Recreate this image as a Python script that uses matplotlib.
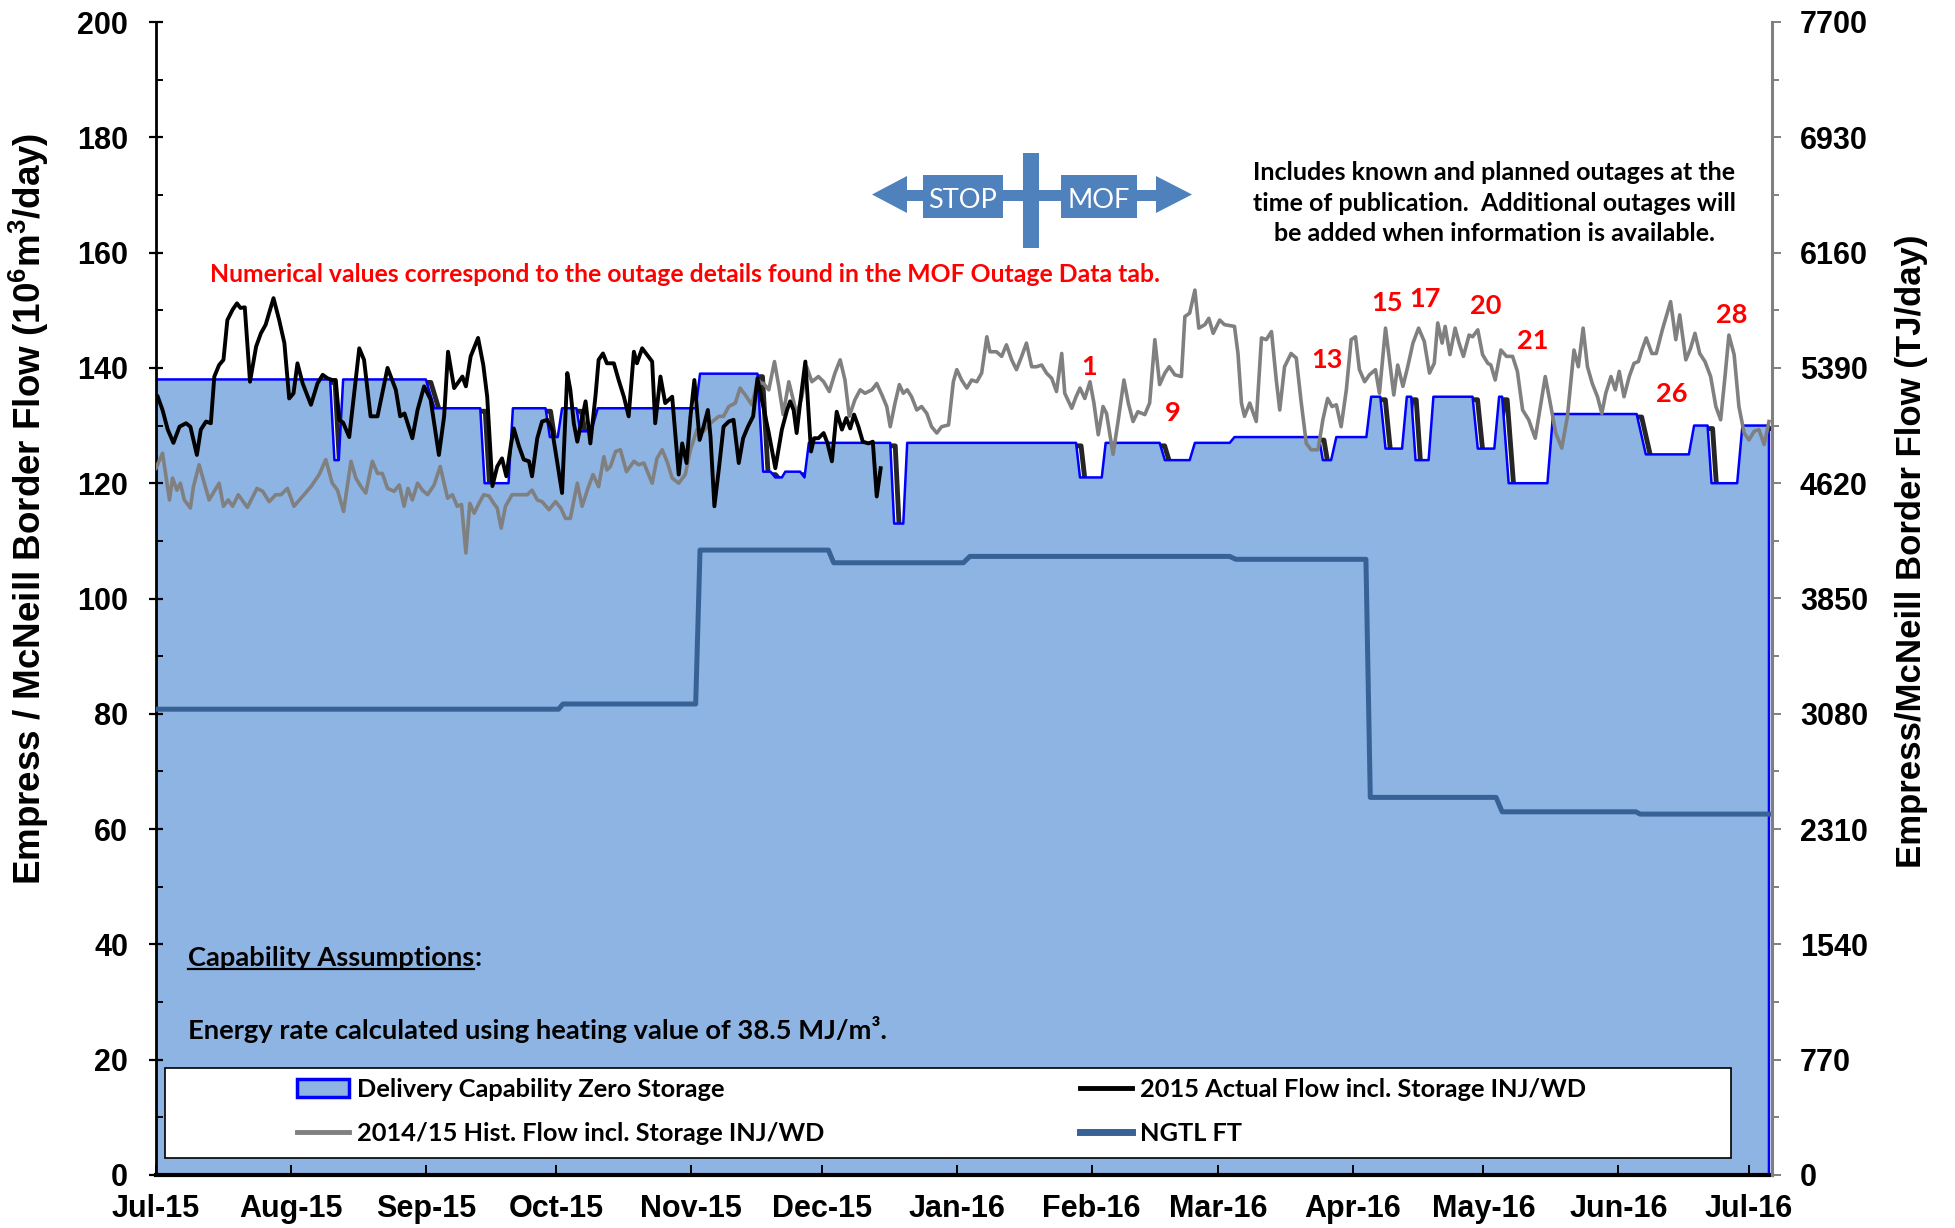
import numpy as np
import matplotlib
matplotlib.use('Agg')
import matplotlib.pyplot as plt
import matplotlib.dates as mdates
import matplotlib.transforms as mtransforms
from matplotlib.patches import Polygon, Rectangle, Patch
from matplotlib.lines import Line2D
from matplotlib.ticker import MultipleLocator

# ---------------- data (day offsets from 2015-07-01) ----------------
cap_days = [0, 40, 41, 42, 43, 62, 64, 74.5, 75.5, 81, 82, 89.5, 90.5, 92.3, 93.3, 96.6, 97.5,
            100, 101.5, 124, 125, 138.2, 139.5, 141.2, 142.3, 143.8, 144.6, 148, 149, 150,
            168.7, 169.6, 171.7, 172.6, 211.4, 212.3, 217.3, 218.2, 230.6, 231.8, 237.5, 238.7,
            246.7, 247.8, 267.2, 268.1, 270, 271.2, 278.1, 279.2, 281.3, 282.5, 286.3, 287.4,
            288.4, 289.4, 292.4, 293.5, 302.5, 303.7, 307.5, 308.6, 309.3, 310.8, 319.7, 321,
            340.2, 342.3, 352.2, 353.4, 356.5, 357.4, 363.3, 364.5, 370.6, 370.6]
cap_vals = [138, 138, 124, 124, 138, 138, 133, 133, 120, 120, 133, 133, 128, 128, 133, 133, 129,
            129, 133, 133, 139, 139, 122, 122, 121, 121, 122, 122, 121, 127,
            127, 113, 113, 127, 127, 121, 121, 127, 127, 124, 124, 127,
            127, 128, 128, 124, 124, 128, 128, 135, 135, 126, 126, 135,
            135, 124, 124, 135, 135, 126, 126, 135, 135, 120, 120, 132,
            132, 125, 125, 130, 130, 120, 120, 130, 130, 0]

ngtl_days = [0, 92.5, 93.5, 124, 125, 154.5, 155.7, 185.5, 187, 246.7, 248.1, 278, 279,
             307.9, 309.3, 340, 341, 370.6]
ngtl_vals = [80.8, 80.8, 81.7, 81.7, 108.4, 108.4, 106.2, 106.2, 107.3, 107.3, 106.8, 106.8,
             65.5, 65.5, 63.0, 63.0, 62.6, 62.6]

actual_days = [0.4, 1.5, 2.7, 4.0, 5.4, 6.9, 7.9, 9.4, 10.3, 11.5, 12.6, 13.4, 14.5, 15.5, 16.4,
               17.6, 18.6, 19.4, 20.4, 21.6, 23.0, 24.1, 25.2, 27.0, 28.3, 29.5, 30.6, 31.6,
               32.5, 33.7, 35.6, 37.1, 38.3, 39.4, 40.5, 41.3, 42.1, 43.0, 44.4, 46.7, 47.8,
               49.3, 50.9, 53.2, 55.1, 56.1, 57.1, 58.9, 60.1, 61.6, 63.1, 65.0, 66.2, 67.1,
               68.5, 70.4, 71.2, 72.3, 74.0, 75.2, 76.1, 76.8, 77.3, 78.4, 79.5, 80.5, 81.5,
               82.2, 83.4, 84.5, 85.7, 86.4, 87.6, 88.7, 89.9, 91.0, 92.2, 93.3, 94.5, 95.2,
               96.0, 96.8, 97.5, 98.7, 99.8, 101.0, 101.7, 102.7, 103.6, 105.2, 106.3, 107.5,
               108.6, 109.8, 110.5, 111.7, 112.8, 114.0, 114.7, 115.9, 117.0, 118.6, 120.1,
               120.9, 121.9, 122.8, 123.7, 124.9, 125.8, 126.8, 127.4, 128.3, 129.3, 130.4,
               131.6, 132.7, 133.9, 134.9, 136.0, 137.2, 138.2, 139.2, 140.8, 142.3, 143.8,
               145.0, 145.7, 146.5, 147.2, 148.0, 149.2, 149.9, 150.5, 151.2, 152.2, 153.4,
               154.3, 155.3, 156.4, 157.6, 158.6, 159.5, 160.4, 161.4, 162.4, 163.7, 164.7,
               165.6, 166.5]
actual_vals = [135.0, 132.7, 129.3, 127.0, 129.8, 130.4, 129.8, 124.9, 129.3, 130.7, 130.4, 138.5,
               140.5, 141.4, 148.3, 150.1, 151.2, 150.4, 150.5, 137.6, 143.7, 146.0, 147.5, 152.1,
               148.3, 144.3, 134.7, 135.6, 140.8, 137.3, 133.6, 137.3, 138.8, 138.2, 137.9, 137.9,
               131.0, 130.5, 128.0, 143.4, 141.4, 131.6, 131.6, 140.0, 136.2, 131.6, 132.1, 127.8,
               132.7, 136.8, 134.5, 124.9, 131.6, 142.8, 136.5, 138.5, 136.8, 142.0, 145.2, 140.5,
               135.0, 126.0, 119.5, 122.9, 124.3, 121.2, 126.4, 129.5, 126.4, 124.1, 123.8, 121.2,
               127.8, 130.7, 131.0, 129.3, 123.5, 118.3, 139.1, 136.2, 130.4, 127.2, 129.8, 134.2,
               126.9, 135.3, 141.4, 142.5, 140.8, 140.8, 137.9, 135.0, 131.6, 142.8, 140.8, 143.4,
               142.3, 141.1, 130.4, 138.5, 133.9, 135.0, 121.5, 126.9, 123.5, 131.6, 137.9, 127.5,
               129.8, 132.7, 128.1, 116.0, 122.3, 129.8, 130.7, 131.0, 123.5, 127.8, 129.8, 131.6,
               138.2, 134.5, 128.7, 122.6, 129.3, 132.7, 134.2, 132.7, 128.7, 133.9, 141.1, 132.7,
               125.5, 127.8, 127.8, 128.7, 126.9, 123.8, 132.4, 129.3, 131.3, 129.5, 131.9, 129.8,
               127.2, 126.9, 127.2, 117.7, 122.6]

hist_days = [0, 1.5, 3.1, 3.8, 4.8, 5.6, 6.5, 7.9, 8.6, 9.9, 11.1, 12.2, 13.8, 14.5, 15.5, 16.6,
             17.6, 18.9, 21.0, 23.2, 24.5, 26.0, 27.5, 28.7, 30.2, 31.7, 33.3, 35.6, 37.5, 39.0,
             40.5, 41.7, 43.1, 44.8, 45.9, 47.1, 48.2, 49.7, 50.9, 52.0, 53.2, 54.7, 55.9, 57.0,
             57.9, 58.9, 60.1, 61.2, 62.4, 63.9, 65.3, 67.0, 68.1, 69.2, 70.2, 71.2, 72.1, 73.1,
             74.2, 75.3, 76.5, 77.6, 78.4, 79.3, 80.3, 81.8, 83.4, 85.3, 86.4, 87.6, 88.7, 90.3,
             91.8, 93.0, 94.1, 95.2, 96.8, 97.9, 99.1, 100.4, 101.7, 102.9, 103.6, 104.4, 105.6,
             106.7, 108.1, 109.8, 110.9, 112.1, 114.0, 115.1, 116.3, 117.4, 118.6, 120.1, 121.6,
             122.8, 124.3, 125.8, 127.4, 129.3, 130.4, 131.6, 133.1, 134.2, 135.4, 136.9, 138.2,
             139.6, 140.8, 142.1, 143.1, 144.1, 145.4, 146.5, 147.2, 148.4, 149.5, 150.7, 152.2,
             153.4, 154.7, 156.0, 157.2, 158.3, 159.3, 160.6, 161.8, 162.9, 164.5, 165.6, 166.8,
             167.9, 168.7, 169.8, 170.8, 171.7, 172.6, 173.6, 174.8, 175.9, 177.1, 178.2, 179.4,
             180.5, 182.1, 183.2, 184.0, 185.1, 186.3, 187.4, 188.6, 189.7, 190.9, 191.6, 193.1,
             194.3, 195.4, 196.6, 197.7, 198.9, 200.0, 201.2, 202.3, 203.5, 204.6, 205.8, 206.9,
             208.1, 208.8, 210.4, 211.4, 212.3, 213.4, 214.6, 215.5, 216.5, 217.6, 218.4, 219.9,
             221.1, 222.4, 223.4, 224.5, 225.6, 227.2, 228.3, 229.5, 230.6, 231.8, 232.8, 234.1,
             235.6, 236.4, 237.5, 238.7, 239.6, 241.0, 241.9, 242.9, 244.4, 245.5, 247.8, 248.6,
             249.4, 250.1, 251.3, 252.8, 254.0, 255.1, 256.3, 257.4, 258.2, 259.3, 260.8, 262.0,
             263.1, 264.3, 265.4, 267.0, 268.1, 269.2, 270.2, 271.2, 272.3, 273.5, 274.6, 275.6,
             276.5, 277.7, 278.8, 280.2, 281.1, 282.5, 283.4, 284.4, 285.3, 286.5, 287.6, 288.8,
             290.1, 291.4, 292.6, 293.7, 294.5, 295.5, 296.2, 297.3, 298.5, 299.4, 300.4, 301.7,
             302.5, 303.7, 304.8, 306.0, 306.7, 307.7, 309.0, 310.3, 311.7, 312.8, 314.0, 315.4,
             316.9, 318.2, 319.2, 320.5, 321.6, 323.0, 324.3, 325.8, 326.8, 327.9, 328.9, 330.0,
             331.2, 332.2, 333.1, 334.3, 335.3, 336.2, 337.3, 338.5, 339.6, 340.6, 341.4, 342.4,
             343.7, 344.7, 346.1, 347.0, 348.0, 349.2, 350.1, 351.5, 352.6, 353.6, 354.7, 355.9,
             357.2, 358.4, 359.5, 360.5, 361.4, 362.6, 363.7, 364.9, 366.0, 367.2, 368.3, 369.5,
             370.6]
hist_vals = [122.6, 125.2, 117.1, 120.9, 118.8, 120.0, 117.1, 115.7, 119.4, 123.2, 120.0, 117.1,
             119.1, 120.0, 116.0, 117.1, 116.0, 118.0, 115.8, 119.1, 118.6, 116.8, 118.0, 118.0,
             119.1, 116.0, 117.4, 119.4, 121.5, 124.1, 120.0, 118.8, 115.1, 123.8, 120.9, 119.4,
             118.3, 123.8, 121.7, 121.7, 119.1, 118.6, 119.7, 116.0, 119.1, 117.1, 120.0, 118.8,
             118.0, 119.7, 122.9, 117.4, 118.0, 116.0, 116.3, 107.9, 116.5, 114.8,
             116.5, 118.0, 117.8, 116.5, 115.7, 112.2, 116.0, 118.0, 118.0, 118.0, 118.8, 117.1,
             116.8, 115.4, 116.8, 115.7, 113.9, 113.9, 120.0, 116.0, 118.8, 121.5, 119.4, 124.6,
             122.3, 122.9, 125.5, 125.8, 122.0, 123.8, 123.2, 123.5, 120.0, 124.3, 125.8, 123.8,
             120.9, 120.0, 121.5, 125.8, 129.3, 129.0, 130.4, 131.6, 131.6, 133.3, 133.9, 136.5,
             135.3, 133.6, 137.6, 137.3, 136.2, 141.1, 136.8, 131.9, 137.6,
             134.2, 131.9, 135.0, 140.2, 137.6, 138.5, 137.6, 135.9, 139.1, 141.4, 137.9, 131.6,
             134.5, 136.2, 135.6, 136.2, 137.3, 135.3, 133.3, 129.8, 133.9, 137.1, 135.6, 136.2,
             135.0, 132.7, 133.3, 132.1, 129.8, 128.7, 129.8, 130.1, 137.6, 139.7, 137.9, 136.5,
             137.9, 137.6, 139.1, 145.4, 142.8, 142.8, 142.0, 144.0, 141.4, 139.7, 142.0, 144.3,
             140.2, 140.2, 140.5, 139.1, 138.2, 135.9, 142.5, 135.6, 133.0, 135.0, 136.5, 134.7,
             137.6, 133.9, 128.4, 133.3, 132.1, 125.0,
             131.0, 137.9, 133.9, 130.7, 132.4, 131.9, 133.9, 144.9, 137.1, 139.1, 140.2, 138.8,
             138.5, 148.9, 149.5, 153.5, 146.9, 147.5, 148.6, 146.0, 148.3, 147.5, 147.2, 142.5,
             133.9, 131.6, 133.9, 130.7, 145.2, 144.9, 146.3, 137.9, 132.7, 140.2, 142.5, 141.7,
             134.2, 126.9, 125.8, 125.8, 131.0, 134.7, 133.3, 133.6, 129.8, 136.2, 144.9, 145.4,
             139.7, 137.6, 138.8, 139.7, 135.6, 146.9, 141.4, 135.3, 140.5, 136.8, 140.2, 144.3,
             146.9, 144.6, 139.1, 140.8, 147.8, 144.3, 147.2, 142.3, 146.9, 144.3, 142.0, 145.7,
             145.4, 146.6, 142.3, 140.8, 140.5, 137.9, 143.1, 142.0, 142.0, 139.4, 132.7, 131.0,
             127.8, 133.9, 138.5, 133.3, 128.7, 126.1, 131.6, 143.1, 140.2, 146.9, 140.2, 137.3,
             135.0, 132.1, 135.6, 138.5, 136.2, 139.4, 135.0, 138.5, 140.8, 141.1, 143.1, 145.2,
             142.5, 142.5, 146.6, 148.9, 151.5, 144.9, 149.2, 141.4, 143.4, 146.0, 142.5, 141.1,
             138.5, 133.3, 131.0, 138.5, 145.7, 142.3, 133.3, 128.7, 127.5, 129.0, 129.3, 126.7,
             130.7]

outage_ids = ['1', '9', '13', '15', '17', '20', '21', '26', '28']
outage_days = [214.3, 233.6, 269.1, 282.9, 291.6, 305.6, 316.4, 348.3, 362.1]
outage_vals = [140.2, 132.2, 141.4, 151.2, 152.0, 150.8, 144.7, 135.5, 149.2]

month_labels_fmt = '%b-%y'
TJ_PER_E6M3 = 38.5

# ---------------- styling ----------------
plt.rcParams['font.family'] = ['Liberation Sans', 'DejaVu Sans']
plt.rcParams['font.weight'] = 'bold'
plt.rcParams['mathtext.fontset'] = 'custom'
plt.rcParams['mathtext.bf'] = 'Liberation Sans:bold'
plt.rcParams['mathtext.rm'] = 'Liberation Sans:bold'
plt.rcParams['mathtext.default'] = 'bf'
CAL = ['Lato', 'DejaVu Sans']

FILL = '#8EB4E3'
BLUE = '#0000FF'
NGTL = '#386296'
GRAY = '#808080'
ARROWC = '#4F81BD'

BASE = np.datetime64('2015-07-01T00:00')
def to_dates(days):
    return BASE + (np.asarray(days, float) * 1440).round().astype('timedelta64[m]')

W, H = 1956, 1228
fig = plt.figure(figsize=(W / 100, H / 100), dpi=100)
ax = fig.add_axes([156 / W, 1 - 1175 / H, 1616 / W, 1153 / H])

cap_x = to_dates(cap_days)
# shadow of the capability line (visible on falling edges)
shadow_tr = mtransforms.offset_copy(ax.transData, fig=fig, x=5, y=-3, units='dots')
ax.plot(cap_x, cap_vals, color='black', lw=3.5, transform=shadow_tr, zorder=0.8, alpha=0.85)
ax.fill_between(cap_x, 0, cap_vals, color=FILL, lw=0, zorder=1)
ax.plot(cap_x, cap_vals, color=BLUE, lw=1.8, zorder=2)
ax.plot(to_dates(hist_days), hist_vals, color=GRAY, lw=2.6, zorder=3)
ax.plot(to_dates(ngtl_days), ngtl_vals, color=NGTL, lw=3.6, zorder=3.5)
ax.plot(to_dates(actual_days), actual_vals, color='black', lw=2.8, zorder=4)

ax.set_xlim(to_dates([0])[0], to_dates([371.3])[0])
ax.set_ylim(0, 200)
ax.yaxis.set_major_locator(MultipleLocator(20))
ax.yaxis.set_minor_locator(MultipleLocator(10))
ax.xaxis.set_major_locator(mdates.MonthLocator())
ax.xaxis.set_major_formatter(mdates.DateFormatter(month_labels_fmt))
ax.tick_params(axis='y', which='major', direction='inout', length=10, width=1.6,
               labelsize=22, pad=15)
ax.tick_params(axis='y', which='minor', direction='in', length=5, width=1.4)
ax.tick_params(axis='x', which='major', direction='in', length=7, width=1.4,
               labelsize=22, pad=14)
for lab in ax.get_xticklabels() + ax.get_yticklabels():
    lab.set_fontweight('bold')
ax.spines['top'].set_visible(False)
ax.spines['right'].set_visible(False)
ax.spines['left'].set_linewidth(2)
ax.spines['bottom'].set_linewidth(3)

ax2 = ax.twinx()
ax2.set_ylim(0, 200 * TJ_PER_E6M3)
ax2.yaxis.set_major_locator(MultipleLocator(20 * TJ_PER_E6M3))
ax2.yaxis.set_minor_locator(MultipleLocator(10 * TJ_PER_E6M3))
ax2.yaxis.set_major_formatter(matplotlib.ticker.FuncFormatter(lambda v, p: f'{v:.0f}'))
ax2.tick_params(axis='y', which='major', direction='out', length=6.5, width=1.4,
                color=GRAY, labelsize=22, pad=13.5)
ax2.tick_params(axis='y', which='minor', direction='out', length=5, width=1.4, color=GRAY)
for s in ['top', 'left', 'bottom']:
    ax2.spines[s].set_visible(False)
ax2.spines['right'].set_color(GRAY)
ax2.spines['right'].set_linewidth(2.2)

# axis titles
fig.text(29 / W, 1 - 509 / H, 'Empress / McNeill Border Flow (10$^6$m$^3$/day)',
         rotation=90, ha='center', va='center', fontsize=26.5, fontweight='bold')
fig.text(1912 / W, 1 - 551 / H, 'Empress/McNeill Border Flow (TJ/day)',
         rotation=90, ha='center', va='center', fontsize=25, fontweight='bold')

# annotations
ax.text(0.0334, 0.7814,
        'Numerical values correspond to the outage details found in the MOF Outage Data tab.',
        transform=ax.transAxes, color='#FF0000', fontsize=17.8, fontweight='bold',
        family=CAL, ha='left', va='center')
ax.text(0.828, 0.843,
        'Includes known and planned outages at the\ntime of publication.  Additional outages will\n'
        'be added when information is available.',
        transform=ax.transAxes, color='black', fontsize=18, fontweight='bold', family=CAL,
        ha='center', va='center', linespacing=1.4)
for lab, d, v in zip(outage_ids, outage_days, outage_vals):
    ax.text(to_dates([d])[0], v, lab, color='#FF0000', fontsize=19.5, fontweight='bold',
            family=CAL, ha='center', va='center', zorder=6)

ta = ax.text(0.0198, 0.188, 'Capability Assumptions', transform=ax.transAxes,
             fontsize=19.7, fontweight='bold', family=CAL, ha='left', va='center', zorder=6)
ax.annotate(':', xy=(1, 0), xycoords=ta, ha='left', va='bottom', fontsize=19.7,
            fontweight='bold', family=CAL, zorder=6)
ax.text(0.0198, 0.1258, 'Energy rate calculated using heating value of 38.5 MJ/m³.',
        transform=ax.transAxes, fontsize=19.7, fontweight='bold', family=CAL,
        ha='left', va='center', zorder=6)

# legend box + two legend columns
ax.add_patch(Rectangle((0.0056, 0.0147), 0.969, 0.078, transform=ax.transAxes,
                       facecolor='white', edgecolor='black', lw=1.2, zorder=5))
h_cap = Patch(facecolor=FILL, edgecolor=BLUE, linewidth=2.5)
h_hist = Line2D([], [], color=GRAY, lw=3.5)
h_act = Line2D([], [], color='black', lw=3.5)
h_ngtl = Line2D([], [], color=NGTL, lw=5)
legprops = dict(family=CAL, size=18.3, weight='bold')
leg1 = ax.legend([h_cap, h_hist], ['Delivery Capability Zero Storage',
                                   '2014/15 Hist. Flow incl. Storage INJ/WD'],
                 loc='center left', bbox_to_anchor=(0.0873, 0.0551), frameon=False,
                 prop=legprops, handlelength=2.05, handletextpad=0.3, labelspacing=0.85,
                 borderpad=0, borderaxespad=0)
leg1.set_zorder(6)
ax.add_artist(leg1)
leg2 = ax.legend([h_act, h_ngtl], ['2015 Actual Flow incl. Storage INJ/WD', 'NGTL FT'],
                 loc='center left', bbox_to_anchor=(0.5718, 0.0551), frameon=False,
                 prop=legprops, handlelength=2.05, handletextpad=0.3, labelspacing=0.85,
                 borderpad=0, borderaxespad=0)
leg2.set_zorder(6)

# STOP / MOF graphic (figure pixel coordinates)
def P(pts):
    return [(x / W, 1 - y / H) for x, y in pts]

shapes = [
    [(905, 190), (1158, 190), (1158, 201), (905, 201)],
    [(872, 194.5), (907, 176), (907, 213)],
    [(1192, 194.5), (1156, 176), (1156, 213)],
    [(1023, 153), (1039, 153), (1039, 248), (1023, 248)],
    [(923, 175), (1003, 175), (1003, 218), (923, 218)],
    [(1061, 175), (1137, 175), (1137, 218), (1061, 218)],
]
for sh in shapes:
    fig.add_artist(Polygon(P(sh), closed=True, transform=fig.transFigure,
                           facecolor=ARROWC, edgecolor='none', zorder=7))
fig.text(963 / W, 1 - 200 / H, 'STOP', color='white', fontsize=19.5, family=CAL,
         fontweight='normal', ha='center', va='center', zorder=8)
fig.text(1099 / W, 1 - 200 / H, 'MOF', color='white', fontsize=19.5, family=CAL,
         fontweight='normal', ha='center', va='center', zorder=8)

# underline "Capability Assumptions"
fig.canvas.draw()
renderer = fig.canvas.get_renderer()
bb = ta.get_window_extent(renderer)
_, _, desc = renderer.get_text_width_height_descent('Capability Assumptions',
                                                     ta.get_fontproperties(), ismath=False)
uy = bb.y0 + desc - 3
fig.add_artist(Line2D([bb.x0 / W, bb.x1 / W], [uy / H, uy / H], transform=fig.transFigure,
                      color='black', lw=1.6, zorder=8))

fig.savefig('out.png', dpi=100)
